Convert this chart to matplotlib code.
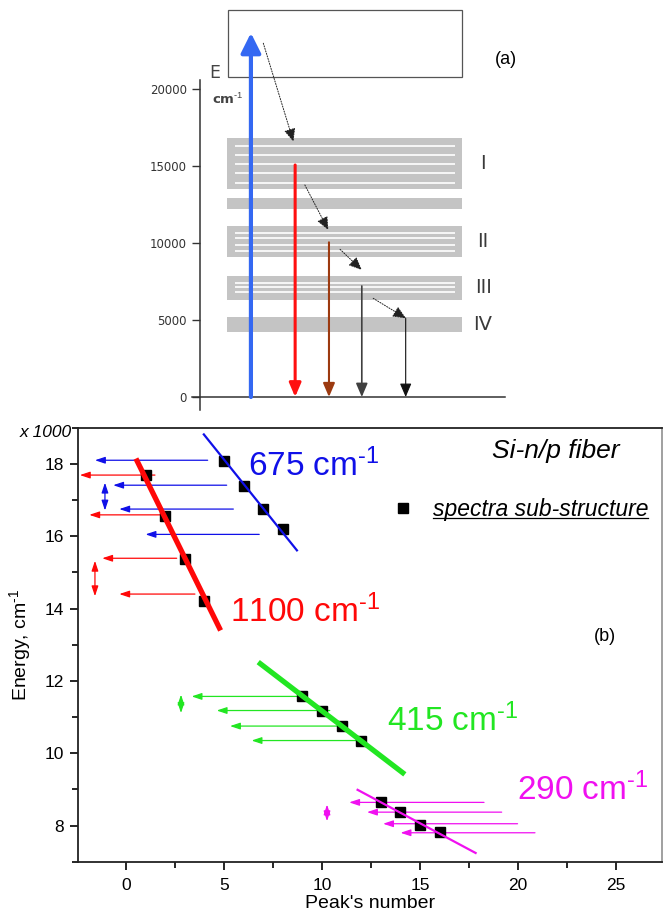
import matplotlib
matplotlib.use("Agg")
import matplotlib.pyplot as plt
from matplotlib.patches import Rectangle, FancyArrowPatch
from matplotlib.lines import Line2D
from matplotlib.ticker import MultipleLocator
import numpy as np

plt.rcParams['font.family'] = ['Liberation Sans', 'DejaVu Sans']
plt.rcParams['mathtext.fontset'] = 'custom'
plt.rcParams['mathtext.rm'] = 'Liberation Sans'
plt.rcParams['mathtext.it'] = 'Liberation Sans:italic'
plt.rcParams['mathtext.bf'] = 'Liberation Sans:bold'

UNIT = r'cm$^{\text{-1}}$'

# ---------------- (a) energy-level scheme (cm^-1) ----------------
band_names = ["I", "", "II", "III", "IV"]
band_lo = [13500, 12190, 9070, 6300, 4240]
band_hi = [16820, 12900, 11100, 7860, 5180]
sublevels = [[13920, 14530, 15130, 15710, 16320], [],
             [9480, 9870, 10300, 10630],
             [6840, 7120, 7420], []]
continuum = (20800, 25100)
pump_energy = 23640
emission_energy = [15065, 10045, 7208, 5110]
relax_from = [22970, 13766, 9591, 6409]
relax_to = [16578, 10844, 8247, 5110]
scheme_ticks = [0, 5000, 10000, 15000, 20000]

# ---------------- (b) peak energies (x1000 cm^-1) ----------------
peaks_675 = [5, 6, 7, 8]
energy_675 = [18.08, 17.40, 16.75, 16.21]
peaks_1100 = [1, 2, 3, 4]
energy_1100 = [17.69, 16.57, 15.37, 14.20]
peaks_415 = [9, 10, 11, 12]
energy_415 = [11.57, 11.18, 10.75, 10.35]
peaks_290 = [13, 14, 15, 16]
energy_290 = [8.64, 8.37, 8.01, 7.82]
spacings = [675, 1100, 415, 290]
fit_ranges = [(3.94, 8.76), (0.51, 4.83), (6.75, 14.23), (11.77, 17.89)]

# horizontal arrows: level, tail, tip
arrow_y_675 = [18.10, 17.41, 16.75, 16.05]
arrow_tail_675 = [4.17, 5.14, 5.48, 6.80]
arrow_tip_675 = [-1.58, -0.65, -0.34, 1.00]
arrow_y_1100 = [17.69, 16.59, 15.39, 14.40]
arrow_tail_1100 = [1.48, 1.99, 2.59, 3.52]
arrow_tip_1100 = [-2.35, -1.87, -1.21, -0.34]
arrow_y_415 = [11.57, 11.18, 10.75, 10.35]
arrow_tail_415 = [8.96, 10.40, 11.00, 11.94]
arrow_tip_415 = [3.35, 4.63, 5.31, 6.41]
arrow_y_290 = [8.64, 8.37, 8.05, 7.80]
arrow_tail_290 = [18.27, 19.17, 19.98, 20.87]
arrow_tip_290 = [11.39, 12.30, 13.12, 14.01]

# vertical spacing markers: x, lower, upper
gap_x = [-1.07, -1.58, 2.81, 10.26]
gap_lo = [16.71, 14.34, 11.11, 8.12]
gap_hi = [17.48, 15.32, 11.62, 8.58]

W, H = 663, 917
fig = plt.figure(figsize=(W / 100, H / 100), dpi=100)

# ---------- panel (a) ----------
PX_PER_X = 33.5
X0_PX = 200
E0_PX = 397
PX_PER_E = 0.0154
a_left, a_right, a_bottom = 185, 540, 415
ax_a = fig.add_axes([a_left / W, 1 - a_bottom / H, (a_right - a_left) / W, a_bottom / H])
ax_a.patch.set_visible(False)
ax_a.set_xlim((a_left - X0_PX) / PX_PER_X, (a_right - X0_PX) / PX_PER_X)
ax_a.set_ylim(-(a_bottom - E0_PX) / PX_PER_E, E0_PX / PX_PER_E)

band_x0, band_x1 = 0.82, 7.82
for name, lo, hi, subs in zip(band_names, band_lo, band_hi, sublevels):
    ax_a.add_patch(Rectangle((band_x0, lo), band_x1 - band_x0, hi - lo,
                             fc='#c4c4c4', ec='none', zorder=1))
    if subs:
        ax_a.hlines(subs, 1.04, 7.61, color='white', lw=1.2, zorder=2)
    if name:
        ax_a.text(8.45, (lo + hi) / 2, name, ha='center', va='center',
                  fontsize=14, color='#3a3a3a', family='DejaVu Sans')

ax_a.add_patch(Rectangle((0.84, continuum[0]), 6.98, continuum[1] - continuum[0],
                         fill=False, ec='#555555', lw=0.9, zorder=1))

pump_x = 1.52
ax_a.add_patch(FancyArrowPatch((pump_x, 0), (pump_x, pump_energy),
                               arrowstyle='-|>,head_length=0.6,head_width=0.3',
                               mutation_scale=20, lw=3.0, color='#3468f2',
                               shrinkA=0, shrinkB=0, zorder=5))

emission_x = [2.84, 3.85, 4.83, 6.14]
emission_colors = ['#ff1010', '#9c3a10', '#404040', '#101010']
emission_lw = [2.2, 1.5, 1.2, 0.8]
for x, e, c, lw in zip(emission_x, emission_energy, emission_colors, emission_lw):
    ax_a.add_patch(FancyArrowPatch((x, e), (x, 0),
                                   arrowstyle='-|>,head_length=0.75,head_width=0.32',
                                   mutation_scale=11, lw=lw, color=c,
                                   shrinkA=0, shrinkB=0, zorder=5))

relax_x0 = [1.89, 3.13, 4.18, 5.17]
relax_x1 = [2.79, 3.83, 4.83, 6.15]
for x0, e0, x1, e1 in zip(relax_x0, relax_from, relax_x1, relax_to):
    ax_a.add_patch(FancyArrowPatch((x0, e0), (x1, e1),
                                   arrowstyle='-|>,head_length=0.8,head_width=0.35',
                                   mutation_scale=10, lw=0.7, ls=(0, (1.2, 1.5)),
                                   color='#222222', shrinkA=0, shrinkB=0, zorder=6))

for side in ('top', 'right'):
    ax_a.spines[side].set_visible(False)
ax_a.spines['left'].set_position(('data', 0))
ax_a.spines['bottom'].set_position(('data', 0))
ax_a.spines['left'].set_bounds(-850, 20600)
ax_a.spines['bottom'].set_bounds(-0.24, 9.1)
for side in ('left', 'bottom'):
    ax_a.spines[side].set_color('#333333')
    ax_a.spines[side].set_linewidth(1.1)
ax_a.set_xticks([])
ax_a.set_yticks(scheme_ticks)
ax_a.set_yticklabels([str(t) for t in scheme_ticks], fontsize=8.5,
                     family='DejaVu Sans', color='#333333')
ax_a.tick_params(axis='y', direction='out', length=5.8, width=1.0,
                 color='#333333', pad=3.6)

fig.text(215 / W, 1 - 73 / H, 'E', ha='center', va='center', fontsize=12.5,
         color='#444444', family='DejaVu Sans')
fig.text(228 / W, 1 - 99 / H, UNIT, ha='center', va='center', fontsize=9.5,
         color='#444444', family='DejaVu Sans', weight='bold')
fig.text(506 / W, 1 - 59 / H, '(a)', ha='center', va='center', fontsize=13)

# ---------- panel (b) ----------
ax = fig.add_axes([77.7 / W, 1 - 861.7 / H, (662 - 77.7) / W, (861.7 - 427.7) / H])
ax.set_xlim(-2.46, 27.35)
ax.set_ylim(7, 19)

series = [
    dict(px=peaks_675, e=energy_675, color='#1010e8', lw=1.6, label_xy=(6.22, 17.65),
         ay=arrow_y_675, at=arrow_tail_675, ah=arrow_tip_675),
    dict(px=peaks_1100, e=energy_1100, color='#ff0808', lw=3.8, label_xy=(5.31, 13.62),
         ay=arrow_y_1100, at=arrow_tail_1100, ah=arrow_tip_1100),
    dict(px=peaks_415, e=energy_415, color='#22e622', lw=3.8, label_xy=(13.33, 10.62),
         ay=arrow_y_415, at=arrow_tail_415, ah=arrow_tip_415),
    dict(px=peaks_290, e=energy_290, color='#f010f0', lw=1.6, label_xy=(19.93, 8.70),
         ay=arrow_y_290, at=arrow_tail_290, ah=arrow_tip_290),
]

all_px, all_e = [], []
for s, sp, (fx0, fx1), gx, glo, ghi in zip(series, spacings, fit_ranges, gap_x, gap_lo, gap_hi):
    c = s['color']
    # fitted line whose slope is the labelled spacing
    xm, ym = np.mean(s['px']), np.mean(s['e'])
    fx = np.array([fx0, fx1])
    ax.plot(fx, ym - sp / 1000 * (fx - xm), color=c, lw=s['lw'],
            solid_capstyle='butt', zorder=4)
    for y, t, h in zip(s['ay'], s['at'], s['ah']):
        ax.add_patch(FancyArrowPatch((t, y), (h, y),
                                     arrowstyle='-|>,head_length=0.6,head_width=0.2',
                                     mutation_scale=10, lw=0.9, color=c,
                                     shrinkA=0, shrinkB=0, zorder=2))
    ax.add_patch(FancyArrowPatch((gx, glo), (gx, ghi),
                                 arrowstyle='<|-|>,head_length=0.6,head_width=0.2',
                                 mutation_scale=10, lw=0.9, color=c,
                                 shrinkA=0, shrinkB=0, zorder=2))
    ax.text(*s['label_xy'], f'{sp} ' + UNIT, color=c, fontsize=24,
            ha='left', va='baseline')
    all_px += s['px']
    all_e += s['e']

ax.plot(all_px, all_e, 's', color='black', ms=7, ls='none',
        label='spectra sub-structure', zorder=3)

leg = ax.legend(loc='center left', bbox_to_anchor=(0.5365, 0.812), frameon=False,
                borderpad=0, borderaxespad=0, handlelength=1.0, handletextpad=0.82,
                numpoints=1, prop=dict(family='Liberation Sans', style='italic', size=16.5))

ax.text(18.66, 18.16, 'Si-n/p fiber', fontsize=19, style='italic',
        ha='left', va='baseline')
ax.text(24.44, 13.24, '(b)', fontsize=13, ha='center', va='center')
ax.text(-0.01, 0.988, 'x 1000', transform=ax.transAxes, fontsize=12.5,
        style='italic', ha='right', va='center')

ax.xaxis.set_major_locator(MultipleLocator(5))
ax.xaxis.set_minor_locator(MultipleLocator(2.5))
ax.yaxis.set_major_locator(MultipleLocator(2))
ax.yaxis.set_minor_locator(MultipleLocator(1))
ax.tick_params(which='major', direction='out', length=6, width=1.2, labelsize=12.5, pad=4)
ax.tick_params(which='minor', direction='out', length=4, width=1.2)
ax.tick_params(axis='x', which='major', pad=6)
for sp_ in ax.spines.values():
    sp_.set_linewidth(1.3)
    sp_.set_color('#222222')
ax.spines['right'].set_color('#999999')

ax.set_xlabel("Peak's number", fontsize=14, labelpad=1)
ax.set_ylabel('Energy, ' + UNIT, fontsize=14)
ax.yaxis.set_label_coords(-0.0765, 0.5)

# underline the legend entry
fig.canvas.draw()
renderer = fig.canvas.get_renderer()
bb = leg.get_texts()[0].get_window_extent(renderer)
yline = bb.y0 + 2.6
inv = fig.transFigure.inverted()
(x0f, yf), (x1f, _) = inv.transform([(bb.x0, yline), (bb.x1, yline)])
fig.add_artist(Line2D([x0f, x1f], [yf, yf], color='black', lw=0.9))

fig.savefig('out.png', dpi=100)
